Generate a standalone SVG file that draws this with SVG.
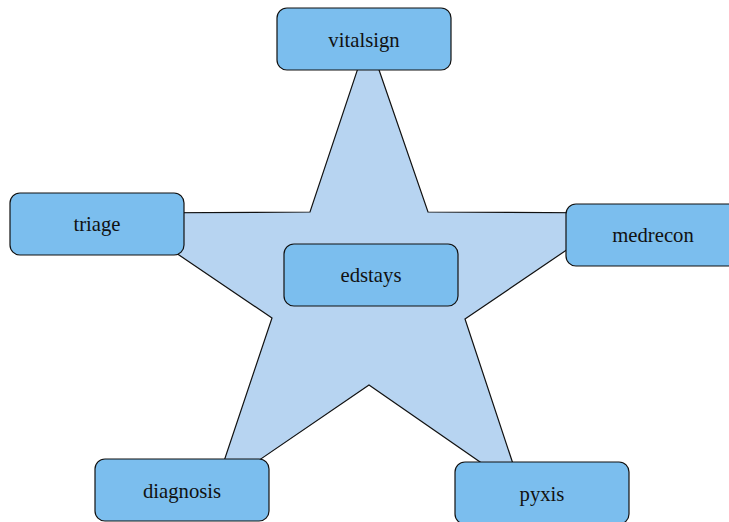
<svg xmlns="http://www.w3.org/2000/svg" width="729" height="522" viewBox="0 0 729 522">
<style>
.box{fill:#7bbeee;stroke:#111;stroke-width:1.2}
.lbl{font-family:'Liberation Serif','Times New Roman',serif;font-size:20.7px;fill:#111;text-anchor:middle}
.star{fill:#b7d4f1;stroke:#111;stroke-width:1.2;stroke-linejoin:miter}
</style>
<rect width="729" height="522" fill="#fff"/>
<g id="connectors">
<polygon class="star" points="368,38 428,212 621,213 465,319 522,491 369,385 214,491 272,318 117,213 310,212"/>
</g>
<g id="vitalsign"><rect class="box" x="277" y="8" width="174" height="62" rx="10"/><text class="lbl" x="364" y="47">vitalsign</text></g>
<g id="triage"><rect class="box" x="10" y="193" width="174" height="62" rx="10"/><text class="lbl" x="97" y="231">triage</text></g>
<g id="medrecon"><rect class="box" x="566" y="204" width="174" height="62" rx="10"/><text class="lbl" x="653" y="242">medrecon</text></g>
<g id="edstays"><rect class="box" x="284" y="244" width="174" height="62" rx="10"/><text class="lbl" x="371" y="282">edstays</text></g>
<g id="diagnosis"><rect class="box" x="95" y="459" width="174" height="62" rx="10"/><text class="lbl" x="182" y="498">diagnosis</text></g>
<g id="pyxis"><rect class="box" x="455" y="462" width="174" height="62" rx="10"/><text class="lbl" x="542" y="501">pyxis</text></g>
</svg>
